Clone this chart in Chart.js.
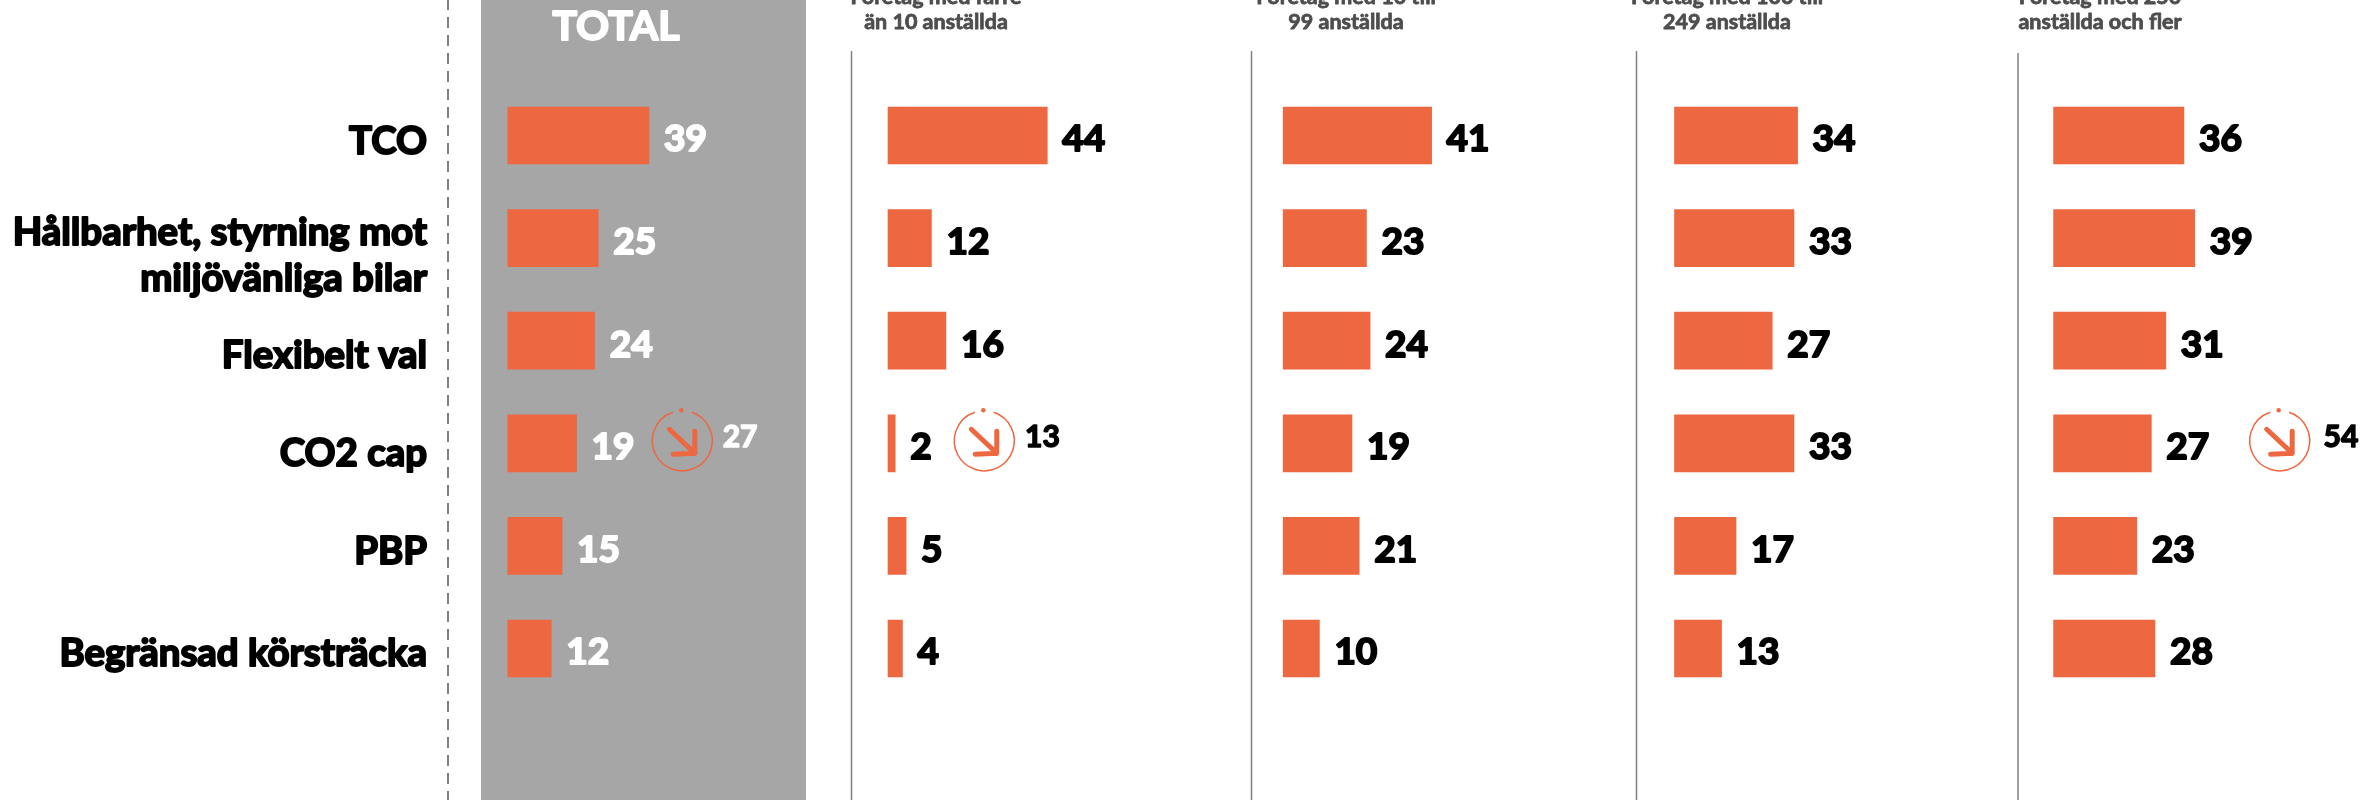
<!DOCTYPE html>
<html>
<head>
<meta charset="utf-8">
<style>
  html, body { margin: 0; padding: 0; background: #fff; overflow: hidden; }
  canvas { display: block; }
</style>
<script src="https://cdn.jsdelivr.net/npm/chart.js@4"></script>
</head>
<body>
<canvas id="chart" width="2361" height="800"></canvas>
<script>
// data
const categories = [
  "TCO",
  ["Hållbarhet, styrning mot", "miljövänliga bilar"],
  "Flexibelt val",
  "CO2 cap",
  "PBP",
  "Begränsad körsträcka"
]
const total = [39, 25, 24, 19, 15, 12]
const under10 = [44, 12, 16, 2, 5, 4]
const from10to99 = [41, 23, 24, 19, 21, 10]
const from100to249 = [34, 33, 27, 33, 17, 13]
const from250 = [36, 39, 31, 27, 23, 28]
const panelTitles = [
  ["TOTAL"],
  ["Företag med färre", "än 10 anställda"],
  ["Företag med 10 till", "99 anställda"],
  ["Företag med 100 till", "249 anställda"],
  ["Företag med 250", "anställda och fler"]
]
// the circled arrows, only on the CO2 cap row
const previousCO2 = [27, 13, null, null, 54]

// layout, in page pixels
const W = 2361
const pxPerUnit = 3.62
const barStart = [507.8, 888, 1283.2, 1674.5, 2053.6]
const titleCenter = [616, 936, 1346, 1727, 2100]
const dividers = [[851.5, 51], [1251.5, 51], [1636.5, 51], [2018, 53]]
const badgeX = [682.3, 984.3, 0, 0, 2279.7]
const badgeTextX = [722.7, 1025, 0, 0, 2323.6]
const labelNudge = [6, 18, 15, 10, 6, 5]
const ORANGE = "#ed6740"
const FONT = "Lato"

const seriesValues = [total, under10, from10to99, from100to249, from250]

// every panel gets its own x scale with the same px per unit, shifted so 0 lands on the panel
let scales = {
  y: {
    type: "category",
    labels: categories.map((c, i) => i),
    display: false,
    grid: { display: false }
  }
}
seriesValues.forEach((s, i) => {
  scales["x" + i] = {
    type: "linear",
    axis: "x",
    position: "bottom",
    display: false,
    min: -barStart[i] / pxPerUnit,
    max: (W - barStart[i]) / pxPerUnit
  }
})

const backdrop = {
  id: "backdrop",
  beforeDatasetsDraw(chart) {
    const ctx = chart.ctx
    ctx.save()
    ctx.fillStyle = "#a6a6a6"
    ctx.fillRect(481, 0, 325, 800)

    ctx.strokeStyle = "#808080"
    ctx.lineWidth = 2
    ctx.setLineDash([11, 7])
    ctx.beginPath()
    ctx.moveTo(448, -1)
    ctx.lineTo(448, 800)
    ctx.stroke()
    ctx.setLineDash([])

    ctx.lineWidth = 1.5
    dividers.forEach(d => {
      ctx.beginPath()
      ctx.moveTo(d[0], d[1])
      ctx.lineTo(d[0], 800)
      ctx.stroke()
    })
    ctx.restore()
  }
}

function drawBadge(ctx, cx, cy) {
  const r = 30
  ctx.strokeStyle = ORANGE
  ctx.fillStyle = ORANGE
  ctx.lineWidth = 1.5
  ctx.beginPath()
  ctx.arc(cx, cy, r, -Math.PI / 2 + 0.32, -Math.PI / 2 - 0.32 + Math.PI * 2)
  ctx.stroke()
  ctx.beginPath()
  ctx.arc(cx - 1, cy - 30.5, 2.2, 0, Math.PI * 2)
  ctx.fill()
  ctx.lineWidth = 5
  ctx.lineCap = "round"
  ctx.lineJoin = "round"
  ctx.beginPath()
  ctx.moveTo(cx - 13, cy - 11.5)
  ctx.lineTo(cx + 12.5, cy + 12.5)
  ctx.moveTo(cx + 12.5, cy - 9.5)
  ctx.lineTo(cx + 12.5, cy + 12.5)
  ctx.lineTo(cx - 9, cy + 13.5)
  ctx.stroke()
}

// the original typeface is heavier than anything installed, so fatten the glyphs with a stroke
function heavyText(ctx, text, x, y, weight) {
  ctx.strokeStyle = ctx.fillStyle
  ctx.lineWidth = weight
  ctx.lineJoin = "round"
  ctx.strokeText(text, x, y)
  ctx.fillText(text, x, y)
}

const texts = {
  id: "texts",
  afterDatasetsDraw(chart) {
    const ctx = chart.ctx
    const y = chart.scales.y
    ctx.save()
    ctx.textBaseline = "middle"

    // category labels
    ctx.textAlign = "right"
    ctx.fillStyle = "#000"
    ctx.font = "bold 38.4px " + FONT
    categories.forEach((c, i) => {
      const cy = y.getPixelForValue(i) + labelNudge[i]
      if (Array.isArray(c)) {
        heavyText(ctx, c[0], 427, cy - 23, 2)
        heavyText(ctx, c[1], 427, cy + 23, 2)
      } else {
        heavyText(ctx, c, 427, cy, 2)
      }
    })

    // panel titles
    ctx.textAlign = "center"
    ctx.fillStyle = "#fff"
    ctx.font = "bold 41px " + FONT
    heavyText(ctx, panelTitles[0][0], titleCenter[0], 27, 2)
    ctx.fillStyle = "#4d4d4d"
    ctx.font = "bold 21.5px " + FONT
    for (let i = 1; i < panelTitles.length; i++) {
      heavyText(ctx, panelTitles[i][0], titleCenter[i], -3, 0.8)
      heavyText(ctx, panelTitles[i][1], titleCenter[i], 22, 0.8)
    }

    // values next to the bars
    ctx.textAlign = "left"
    ctx.font = "bold 37px " + FONT
    seriesValues.forEach((s, i) => {
      ctx.fillStyle = i == 0 ? "#fff" : "#000"
      const bars = chart.getDatasetMeta(i).data
      s.forEach((v, j) => {
        heavyText(ctx, v, bars[j].x + 15, bars[j].y + 4, 2)
      })
    })

    // circled arrow and the earlier figure
    ctx.font = "bold 30px " + FONT
    previousCO2.forEach((v, i) => {
      if (v === null) return
      const cy = y.getPixelForValue(3) - 2.5
      ctx.save()
      drawBadge(ctx, badgeX[i], cy)
      ctx.restore()
      ctx.fillStyle = i == 0 ? "#fff" : "#000"
      heavyText(ctx, v, badgeTextX[i], cy - 3, 1.5)
    })
    ctx.restore()
  }
}

new Chart(document.querySelector("#chart"), {
  type: "bar",
  data: {
    labels: categories.map((c, i) => i),
    datasets: seriesValues.map((s, i) => ({
      label: panelTitles[i].join(" "),
      data: s,
      xAxisID: "x" + i,
      yAxisID: "y",
      backgroundColor: ORANGE,
      barThickness: 57,
      grouped: false
    }))
  },
  options: {
    indexAxis: "y",
    responsive: false,
    animation: false,
    devicePixelRatio: 1,
    layout: { padding: { top: 84.2, bottom: 100.2, left: 0, right: 0 } },
    scales: scales,
    plugins: { legend: { display: false }, tooltip: { enabled: false } }
  },
  plugins: [backdrop, texts]
})
</script>
</body>
</html>
